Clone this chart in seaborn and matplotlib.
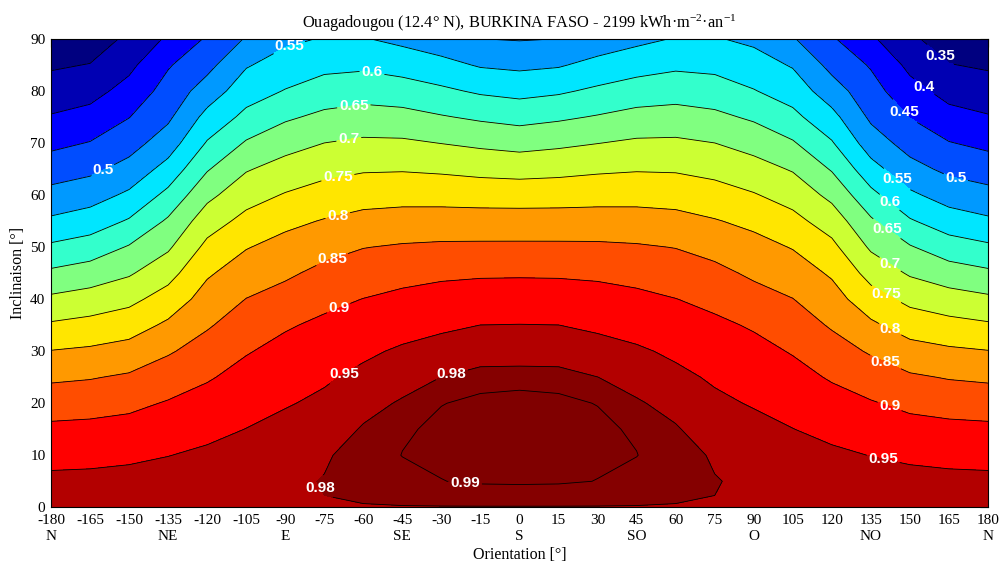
import numpy as np
import matplotlib
matplotlib.use("Agg")
import matplotlib.pyplot as plt
import seaborn as sns

# ---------------- data ----------------
inclinations = list(range(0, 91, 5))            # tilt [deg], rows
orientations = list(range(-180, 181, 15))       # azimuth [deg], columns
direction_names = {-180: "N", -135: "NE", -90: "E", -45: "SE", 0: "S",
                   45: "SO", 90: "O", 135: "NO", 180: "N"}

# irradiation ratio along the tilt axis for each |azimuth| (field is symmetric about S)
r000 = [.9795, .9915, .9930, .9928, .9915, .9885, .9686, .9510, .9236, .8949, .8587, .8208, .7787, .7317, .6830, .6333, .5853, .5396, .4970]
r015 = [.9795, .9912, .9928, .9925, .9912, .9880, .9681, .9502, .9228, .8943, .8586, .8208, .7798, .7357, .6904, .6422, .5933, .5455, .5005]
r030 = [.9795, .9898, .9917, .9915, .9898, .9802, .9630, .9439, .9187, .8913, .8580, .8212, .7825, .7422, .6991, .6536, .6089, .5649, .5210]
r045 = [.9795, .9870, .9902, .9890, .9826, .9704, .9554, .9349, .9113, .8845, .8548, .8198, .7836, .7462, .7077, .6661, .6228, .5800, .5380]
r060 = [.9795, .9830, .9852, .9822, .9721, .9589, .9432, .9220, .9008, .8750, .8487, .8153, .7807, .7449, .7087, .6694, .6297, .5909, .5530]
r075 = [.9795, .9806, .9785, .9670, .9575, .9450, .9271, .9093, .8879, .8626, .8344, .8031, .7700, .7357, .7002, .6609, .6231, .5868, .5535]
r090 = [.9795, .9775, .9714, .9613, .9470, .9303, .9137, .8952, .8683, .8419, .8167, .7882, .7535, .7188, .6820, .6427, .6024, .5713, .5400]
r105 = [.9795, .9760, .9665, .9507, .9330, .9152, .8968, .8739, .8509, .8245, .7974, .7645, .7308, .6959, .6549, .6127, .5781, .5458, .5042]
r120 = [.9795, .9725, .9580, .9382, .9172, .8955, .8702, .8450, .8198, .7938, .7625, .7269, .6875, .6458, .6042, .5654, .5227, .4853, .4559]
r135 = [.9795, .9690, .9491, .9264, .9036, .8753, .8449, .8087, .7712, .7323, .6929, .6571, .6136, .5682, .5250, .4912, .4693, .4455, .4076]
r150 = [.9795, .9650, .9415, .9165, .8890, .8565, .8183, .7782, .7371, .6944, .6540, .6050, .5591, .5167, .4808, .4488, .4175, .3880, .3609]
r165 = [.9795, .9610, .9380, .9120, .8815, .8469, .8078, .7655, .7209, .6730, .6230, .5740, .5292, .4890, .4522, .4164, .3831, .3519, .3220]
r180 = [.9795, .9595, .9366, .9097, .8778, .8419, .8016, .7564, .7094, .6592, .6086, .5585, .5157, .4758, .4382, .4035, .3732, .3435, .3140]

line_levels = [0.35, 0.40, 0.45, 0.50, 0.55, 0.60, 0.65, 0.70, 0.75,
               0.80, 0.85, 0.90, 0.95, 0.98, 0.99]
fill_levels = [0.30] + line_levels + [1.00]
band_colors = ["#000080", "#0000b3", "#0000ff", "#004dff", "#0099ff", "#00e6ff",
               "#33ffcc", "#80ff80", "#ccff33", "#ffe600", "#ff9900", "#ff4d00",
               "#ff0000", "#b30000", "#850000", "#800000"]

title_text = "Ouagadougou (12.4° N), BURKINA FASO - 2199 kWh·m$^{-2}$·an$^{-1}$"

# label anchor spots (orientation, inclination)
label_spots = [
    (-88.6, 88.5), (-56.7, 83.5), (-63.6, 77.0), (-65.5, 70.4),
    (-69.7, 63.1), (-69.7, 55.8), (-71.7, 47.2), (-69.7, 38.5),
    (-68.2, 26.2), (-75.5, 3.9), (-160.0, 64.7), (-25.9, 25.2),
    (-20.9, 4.7),
    (161.2, 86.6), (154.6, 80.2), (147.7, 75.9), (167.3, 62.7),
    (145.8, 63.5), (142.0, 58.5), (140.8, 53.3), (142.0, 46.4),
    (140.8, 40.8), (142.3, 34.1), (140.4, 27.6), (142.0, 19.1),
    (139.7, 9.1),
]

# ---------------- build field ----------------
profiles = {0: r000, 15: r015, 30: r030, 45: r045, 60: r060, 75: r075, 90: r090,
            105: r105, 120: r120, 135: r135, 150: r150, 165: r165, 180: r180}
Z = np.column_stack([profiles[abs(o)] for o in orientations])

# ---------------- style ----------------
sns.set_theme(style="white", rc={
    "axes.edgecolor": "black", "text.color": "black", "axes.labelcolor": "black",
    "xtick.color": "black", "ytick.color": "black"})
plt.rcParams["font.family"] = ["Liberation Serif", "DejaVu Serif"]
plt.rcParams["mathtext.fontset"] = "custom"
plt.rcParams["mathtext.rm"] = "Liberation Serif"
plt.rcParams["mathtext.it"] = "Liberation Serif:italic"
plt.rcParams["axes.unicode_minus"] = False

fig = plt.figure(figsize=(10.05, 5.70), dpi=100)
ax = fig.add_axes([51 / 1005, 1 - 507.3 / 570, (988 - 51) / 1005, (507.3 - 39) / 570])

palette = sns.color_palette(band_colors)
ax.contourf(orientations, inclinations, Z, levels=fill_levels, colors=palette)
cs = ax.contour(orientations, inclinations, Z, levels=line_levels,
                colors="black", linewidths=0.6)

ax.set_xlim(-180, 180)
ax.set_ylim(0, 90)

with plt.rc_context({"font.family": ["Liberation Sans"], "font.weight": "bold"}):
    label_texts = ax.clabel(cs, manual=label_spots, fmt="%g",
                            inline=True, inline_spacing=2, fontsize=11, colors="white")
for t in label_texts:
    t.set_rotation(0)

ax.set_xticks(orientations)
ax.set_xticklabels([f"{o}\n{direction_names[o]}" if o in direction_names else f"{o}"
                    for o in orientations], va="top", linespacing=1.3)
ax.set_yticks(list(range(0, 91, 10)))
ax.tick_params(direction="in", top=True, right=True, length=6, width=0.8,
               labelsize=11)
ax.tick_params(axis="x", pad=5)
ax.tick_params(axis="y", pad=4)
for s in ax.spines.values():
    s.set_color("black")
    s.set_linewidth(0.8)

ax.set_xlabel("Orientation [°]", fontsize=11.5, labelpad=3)
ax.set_ylabel("Inclinaison [°]", fontsize=11.5, labelpad=3)
ax.set_title(title_text, fontsize=11.8, pad=8)

fig.savefig("out.png", dpi=100)
